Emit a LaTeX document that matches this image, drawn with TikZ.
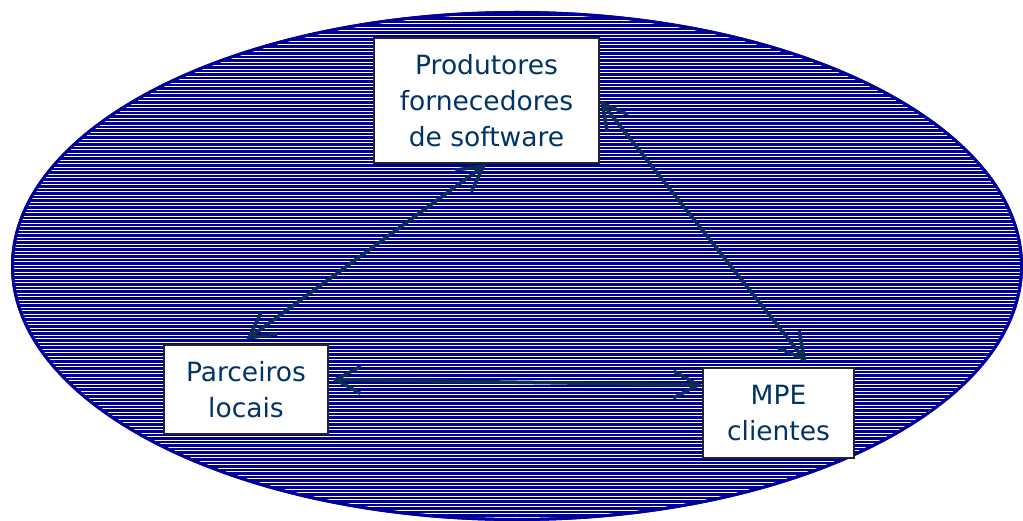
\documentclass[tikz,border=0pt]{standalone}
\usepackage{fontspec}
\setmainfont{DejaVu Sans}
\usetikzlibrary{arrows.meta}
\definecolor{ovalblue}{RGB}{0,0,153}
\definecolor{textblue}{RGB}{0,51,102}
\definecolor{arrowblue}{RGB}{10,45,80}
\definecolor{boxline}{RGB}{35,35,40}
\begin{document}
\begin{tikzpicture}[x=1pt,y=-1pt] % coordinates in pixels of the reference
\tikzstyle{mybox} = [rectangle, draw=boxline, line width=2pt, fill=white, text=textblue, align=center, inner sep=0pt, font=\fontsize{26.5}{36}\selectfont] % box style
\tikzstyle{myarrow} = [draw=arrowblue, line width=3.5pt, {Straight Barb[length=25pt,width=27pt]}-{Straight Barb[length=25pt,width=27pt]}] % arrow style
\useasboundingbox (0,0) rectangle (1023,521);
% the striped oval
\fill[ovalblue] (517,266) ellipse [x radius=506, y radius=255];
\begin{scope}
\clip (517,266) ellipse [x radius=503, y radius=252];
\foreach \y in {13,16.5,...,521} % white lines
    \draw[white, line width=0.75pt] (0,\y) -- (1023,\y);
\end{scope}
\draw[ovalblue, line width=3pt] (517,266) ellipse [x radius=504.5, y radius=253.5];
% boxes
\node[mybox, minimum width=225pt, minimum height=125pt] (prod) at (486.5,100.5) {Produtores\\fornecedores\\de software};
\node[mybox, minimum width=164pt, minimum height=89pt] (parc) at (246,389.5) {Parceiros\\locais};
\node[mybox, minimum width=151pt, minimum height=90pt] (mpe) at (778.5,413) {MPE\\clientes};
% arrows
\draw[myarrow] (prod.south) -- ([yshift=4pt]parc.north);
\draw[myarrow] (prod.east) -- ([xshift=28pt,yshift=5pt]mpe.north);
\draw[myarrow] ([xshift=3pt,yshift=10pt]parc.east) -- ([yshift=28pt]mpe.west);
\end{tikzpicture}
\end{document}
